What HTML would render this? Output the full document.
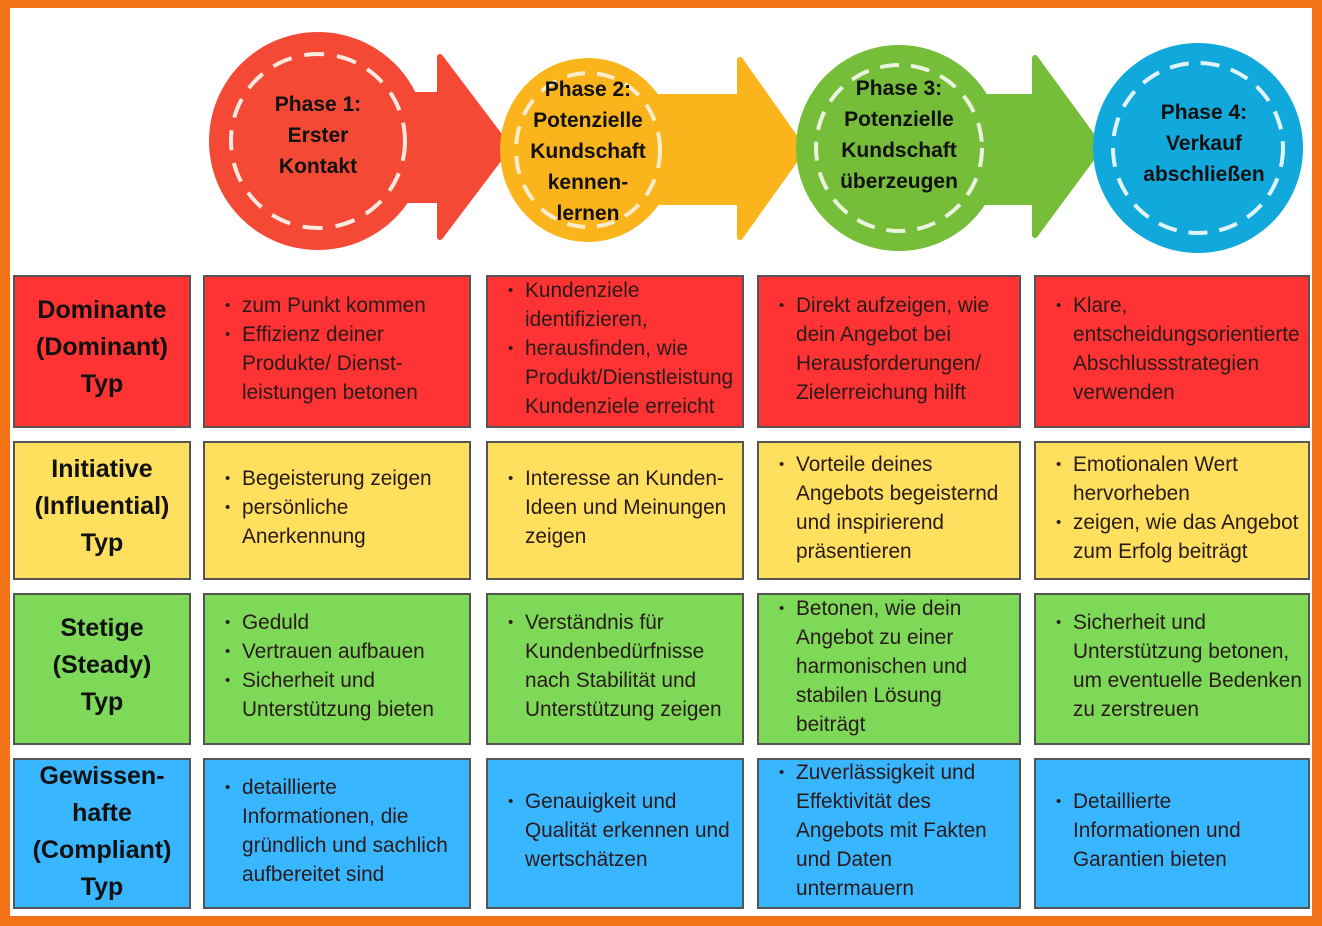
<!DOCTYPE html>
<html><head><meta charset="utf-8"><style>
body{margin:0;width:1322px;height:926px;overflow:hidden;background:#fff;font-family:"Liberation Sans",sans-serif;position:relative}
.frame{position:absolute;left:0;top:0;width:1322px;height:926px;box-sizing:border-box;border:10px solid #f47216;border-top-width:8px}
.c{position:absolute;box-sizing:border-box;border:2px solid #555;color:#2a1a1a;font-size:20.8px;line-height:29px;white-space:nowrap}
.h{display:flex;align-items:center;justify-content:center;text-align:center;font-weight:bold;font-size:25px;line-height:37px;color:#111;padding-bottom:8px}
.t{display:flex;align-items:center;padding-bottom:6px}
ul{margin:0;padding:0 0 0 37px;list-style:none}
li{position:relative}
li:before{content:"•";position:absolute;left:-17px;font-size:15px}
.r{background:#ff3333}.y{background:#ffdf5e}.g{background:#7dd957}.b{background:#38b6ff}
</style></head><body>
<svg width="1322" height="270" style="position:absolute;left:0;top:0" font-family="Liberation Sans, sans-serif" font-weight="bold" font-size="21" text-anchor="middle" fill="#111">
<polygon points="400,95 440,95 440,57 508,147 440,237 440,200 400,200" fill="#f44a35" stroke="#f44a35" stroke-width="6" stroke-linejoin="round"/>
<circle cx="318" cy="141" r="109" fill="#f44a35"/>
<circle cx="318" cy="141" r="87" fill="none" stroke="#fbe8e0" stroke-width="4" stroke-dasharray="20 13"/>
<text x="318" y="111">Phase 1:</text><text x="318" y="142">Erster</text><text x="318" y="173">Kontakt</text>
<polygon points="660,97 740,97 740,60 803,149 740,237 740,202 660,202" fill="#fbb41c" stroke="#fbb41c" stroke-width="6" stroke-linejoin="round"/>
<ellipse cx="588" cy="150" rx="88" ry="92" fill="#fbb41c"/>
<ellipse cx="588" cy="150" rx="72" ry="77" fill="none" stroke="#fbeccc" stroke-width="4" stroke-dasharray="18 12"/>
<text x="588" y="96">Phase 2:</text><text x="588" y="127">Potenzielle</text><text x="588" y="158">Kundschaft</text><text x="588" y="189">kennen-</text><text x="588" y="220">lernen</text>
<polygon points="980,97 1035,97 1035,58 1100,147 1035,235 1035,202 980,202" fill="#76bd3a" stroke="#76bd3a" stroke-width="6" stroke-linejoin="round"/>
<circle cx="899" cy="148" r="103" fill="#76bd3a"/>
<circle cx="899" cy="148" r="83" fill="none" stroke="#eaf3dc" stroke-width="4" stroke-dasharray="19 12"/>
<text x="899" y="95">Phase 3:</text><text x="899" y="126">Potenzielle</text><text x="899" y="157">Kundschaft</text><text x="899" y="188">überzeugen</text>
<circle cx="1198" cy="148" r="105" fill="#11a9dc"/>
<circle cx="1198" cy="148" r="85" fill="none" stroke="#e2f4fb" stroke-width="4" stroke-dasharray="19 12"/>
<text x="1204" y="119">Phase 4:</text><text x="1204" y="150">Verkauf</text><text x="1204" y="181">abschließen</text>
</svg>

<div class="c h r" style="left:13px;top:275px;width:178px;height:153px">Dominante<br>(Dominant)<br>Typ</div>
<div class="c t r" style="left:203px;top:275px;width:268px;height:153px"><ul><li>zum Punkt kommen</li><li>Effizienz deiner<br>Produkte/ Dienst-<br>leistungen betonen</li></ul></div>
<div class="c t r" style="left:486px;top:275px;width:258px;height:153px"><ul><li>Kundenziele<br>identifizieren,</li><li>herausfinden, wie<br>Produkt/Dienstleistung<br>Kundenziele erreicht</li></ul></div>
<div class="c t r" style="left:757px;top:275px;width:264px;height:153px"><ul><li>Direkt aufzeigen, wie<br>dein Angebot bei<br>Herausforderungen/<br>Zielerreichung hilft</li></ul></div>
<div class="c t r" style="left:1034px;top:275px;width:276px;height:153px"><ul><li>Klare,<br>entscheidungsorientierte<br>Abschlussstrategien<br>verwenden</li></ul></div>

<div class="c h y" style="left:13px;top:441px;width:178px;height:139px">Initiative<br>(Influential)<br>Typ</div>
<div class="c t y" style="left:203px;top:441px;width:268px;height:139px"><ul><li>Begeisterung zeigen</li><li>persönliche<br>Anerkennung</li></ul></div>
<div class="c t y" style="left:486px;top:441px;width:258px;height:139px"><ul><li>Interesse an Kunden-<br>Ideen und Meinungen<br>zeigen</li></ul></div>
<div class="c t y" style="left:757px;top:441px;width:264px;height:139px"><ul><li>Vorteile deines<br>Angebots begeisternd<br>und inspirierend<br>präsentieren</li></ul></div>
<div class="c t y" style="left:1034px;top:441px;width:276px;height:139px"><ul><li>Emotionalen Wert<br>hervorheben</li><li>zeigen, wie das Angebot<br>zum Erfolg beiträgt</li></ul></div>

<div class="c h g" style="left:13px;top:593px;width:178px;height:152px">Stetige<br>(Steady)<br>Typ</div>
<div class="c t g" style="left:203px;top:593px;width:268px;height:152px"><ul><li>Geduld</li><li>Vertrauen aufbauen</li><li>Sicherheit und<br>Unterstützung bieten</li></ul></div>
<div class="c t g" style="left:486px;top:593px;width:258px;height:152px"><ul><li>Verständnis für<br>Kundenbedürfnisse<br>nach Stabilität und<br>Unterstützung zeigen</li></ul></div>
<div class="c t g" style="left:757px;top:593px;width:264px;height:152px"><ul><li>Betonen, wie dein<br>Angebot zu einer<br>harmonischen und<br>stabilen Lösung<br>beiträgt</li></ul></div>
<div class="c t g" style="left:1034px;top:593px;width:276px;height:152px"><ul><li>Sicherheit und<br>Unterstützung betonen,<br>um eventuelle Bedenken<br>zu zerstreuen</li></ul></div>

<div class="c h b" style="left:13px;top:758px;width:178px;height:151px;padding-bottom:4px">Gewissen-<br>hafte<br>(Compliant)<br>Typ</div>
<div class="c t b" style="left:203px;top:758px;width:268px;height:151px"><ul><li>detaillierte<br>Informationen, die<br>gründlich und sachlich<br>aufbereitet sind</li></ul></div>
<div class="c t b" style="left:486px;top:758px;width:258px;height:151px"><ul><li>Genauigkeit und<br>Qualität erkennen und<br>wertschätzen</li></ul></div>
<div class="c t b" style="left:757px;top:758px;width:264px;height:151px"><ul><li>Zuverlässigkeit und<br>Effektivität des<br>Angebots mit Fakten<br>und Daten<br>untermauern</li></ul></div>
<div class="c t b" style="left:1034px;top:758px;width:276px;height:151px"><ul><li>Detaillierte<br>Informationen und<br>Garantien bieten</li></ul></div>
<div class="frame"></div>
</body></html>
